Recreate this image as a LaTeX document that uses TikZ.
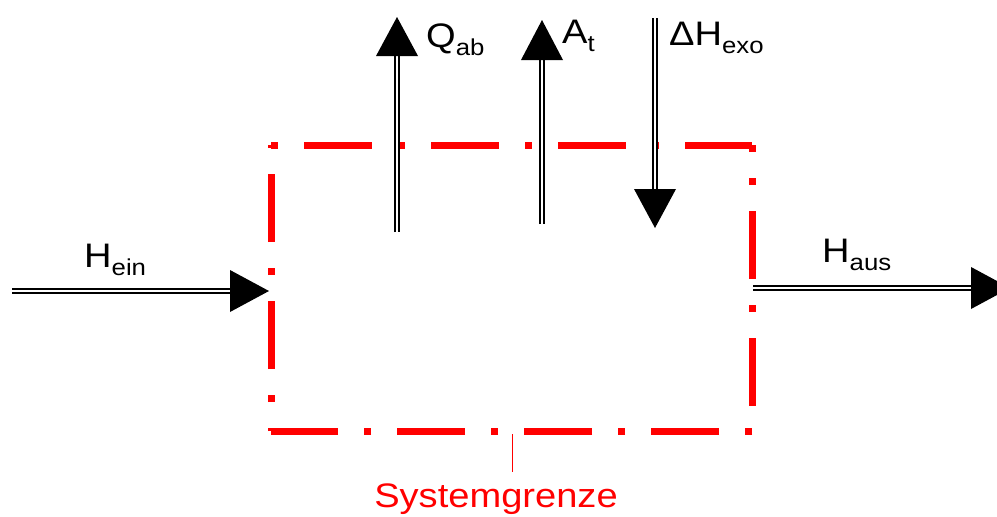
\documentclass[tikz,border=0pt]{standalone}
\usepackage{fontspec}
\setmainfont[FakeStretch=1.12]{Liberation Sans}
\newcommand\lbsub[1]{\raisebox{-8pt}{\fontsize{23}{25}\selectfont #1}}
\tikzset{
  dbl/.style={draw=black, line width=2.2pt, double=white, double distance=2.4pt},
  sysline/.style={draw=red, line width=7pt, dash pattern=on 68pt off 26pt on 7pt off 26pt},
  lbl/.style={anchor=base west, inner sep=0pt, font=\fontsize{34}{37}\selectfont},
  tipfill/.style={fill=black}
}
\begin{document}
\begin{tikzpicture}[x=1pt,y=-1pt]
\useasboundingbox (0,0) rectangle (997,517);
\clip (0,0) rectangle (997,517);
% system boundary corners
\coordinate (tl) at (271,145);
\coordinate (tr) at (752,145);
\coordinate (br) at (752,431);
\coordinate (bl) at (271,431);
\draw[sysline, dash phase=94pt] (tl) -- (tr);
\draw[sysline, dash phase=61pt] (tr) -- (br);
\draw[sysline, dash phase=94pt] (br) -- (bl);
\draw[sysline, dash phase=65pt] (bl) -- (tl);
% Q_ab
\coordinate (qs) at (397,232);
\coordinate (qb) at (397,56);
\coordinate (qt) at (397,17);
\draw[dbl] (qs) -- (qb);
\fill[tipfill] (qt) -- ([xshift=-21pt]qb) -- ([xshift=21pt]qb) -- cycle;
\node[lbl] (ql) at (426,47) {Q\lbsub{ab}};
% A_t
\coordinate (as) at (542,224);
\coordinate (ab) at (542,60);
\coordinate (at) at (542,20);
\draw[dbl] (as) -- (ab);
\fill[tipfill] (at) -- ([xshift=-21pt]ab) -- ([xshift=21pt]ab) -- cycle;
\node[lbl] (al) at (562,43) {A\lbsub{t}};
% Delta H_exo
\coordinate (ds) at (655,18);
\coordinate (db) at (655,189);
\coordinate (dt) at (655,228);
\draw[dbl] (ds) -- (db);
\fill[tipfill] (dt) -- ([xshift=-21pt]db) -- ([xshift=21pt]db) -- cycle;
\node[lbl] (dl) at (669,45) {ΔH\lbsub{exo}};
% H_ein
\coordinate (hes) at (12,291);
\coordinate (heb) at (230,291);
\coordinate (het) at (269,291);
\draw[dbl] (hes) -- (heb);
\fill[tipfill] (het) -- ([yshift=-21pt]heb) -- ([yshift=21pt]heb) -- cycle;
\node[lbl] (hel) at (84,267) {H\lbsub{ein}};
% H_aus
\coordinate (has) at (753,288);
\coordinate (hab) at (971,288);
\coordinate (hat) at (1010,288);
\draw[dbl] (has) -- (hab);
\fill[tipfill] (hat) -- ([yshift=-21pt]hab) -- ([yshift=21pt]hab) -- cycle;
\node[lbl] (hal) at (822,262) {H\lbsub{aus}};
% Systemgrenze
\coordinate (sgt) at (512,434);
\coordinate (sgb) at (512,472);
\draw[red, line width=1pt] (sgt) -- (sgb);
\node[lbl, anchor=base, text=red] (sg) at (496,507) {Systemgrenze};
\end{tikzpicture}
\end{document}
